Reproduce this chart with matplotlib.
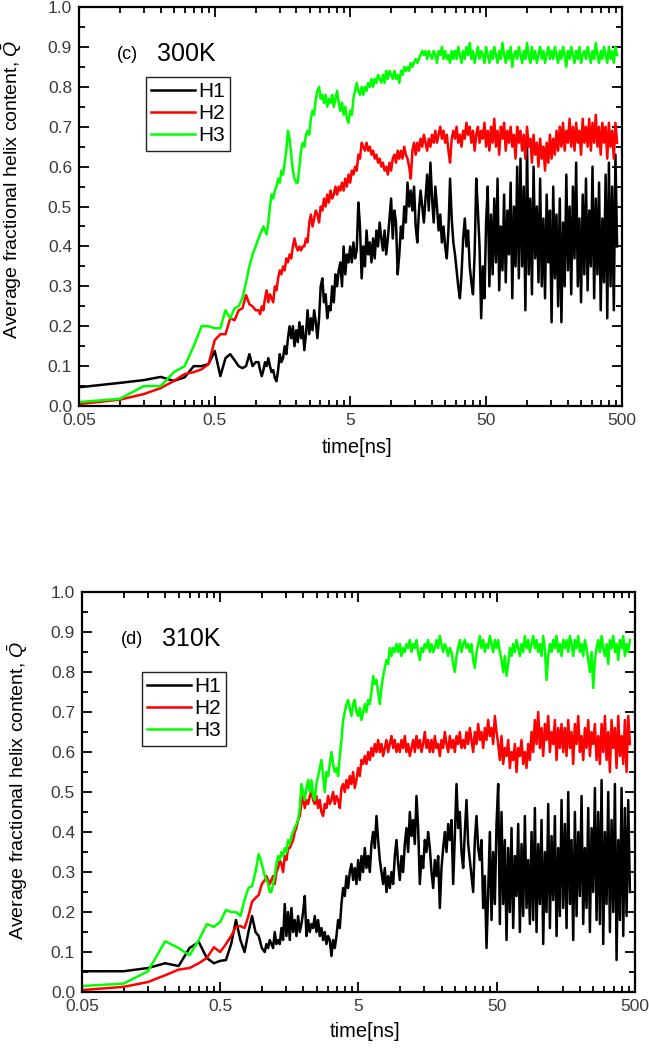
import numpy as np
import matplotlib
matplotlib.use("Agg")
import matplotlib.pyplot as plt
from matplotlib.ticker import FixedLocator, FixedFormatter, MultipleLocator, FormatStrFormatter

plt.rcParams['font.family'] = ['Liberation Sans', 'DejaVu Sans']
plt.rcParams['mathtext.fontset'] = 'custom'
plt.rcParams['mathtext.it'] = 'Liberation Sans:italic'
plt.rcParams['mathtext.rm'] = 'Liberation Sans'

# sampling times: evenly 0.05 ns at the start, then the dense trace (log-spaced samples)
t_early = [0.05, 0.10, 0.15, 0.20, 0.25, 0.30, 0.35, 0.40, 0.45, 0.50,
           0.55, 0.60, 0.65, 0.70, 0.75, 0.80, 0.85, 0.90, 0.95, 1.00]
t_late = np.geomspace(1.05, 460, 220)

# ---- (c) 300K ----
h1_300_early = [0.047, 0.058, 0.065, 0.073, 0.063, 0.072, 0.10, 0.10, 0.105, 0.138,
                0.075, 0.12, 0.13, 0.115, 0.10, 0.095, 0.10, 0.13, 0.10, 0.11]
h1_300_late = [
    0.11, 0.09, 0.075, 0.09, 0.11, 0.10, 0.12, 0.10, 0.085, 0.09, 0.07, 0.062, 0.09, 0.13, 0.11, 0.12, 0.15, 0.13, 0.17, 0.20,
    0.17, 0.20, 0.15, 0.19, 0.16, 0.21, 0.17, 0.20, 0.14, 0.18, 0.24, 0.18, 0.22, 0.19, 0.24, 0.21, 0.17, 0.22, 0.30, 0.32,
    0.26, 0.28, 0.22, 0.25, 0.24, 0.30, 0.26, 0.33, 0.30, 0.34, 0.36, 0.30, 0.40, 0.33, 0.38, 0.36, 0.40, 0.36, 0.41, 0.37,
    0.39, 0.51, 0.45, 0.32, 0.40, 0.35, 0.44, 0.38, 0.41, 0.36, 0.42, 0.37, 0.44, 0.40, 0.46, 0.42, 0.39, 0.44, 0.38, 0.42,
    0.47, 0.52, 0.42, 0.49, 0.46, 0.33, 0.38, 0.45, 0.42, 0.50, 0.46, 0.56, 0.50, 0.54, 0.49, 0.55, 0.45, 0.41, 0.49, 0.54,
    0.50, 0.46, 0.52, 0.58, 0.49, 0.61, 0.52, 0.46, 0.55, 0.50, 0.44, 0.48, 0.41, 0.45, 0.40, 0.37, 0.44, 0.57, 0.47, 0.41,
    0.38, 0.34, 0.30, 0.27, 0.33, 0.42, 0.47, 0.40, 0.44, 0.35, 0.31, 0.28, 0.38, 0.57, 0.49, 0.40, 0.22, 0.35, 0.27, 0.46,
    0.55, 0.30, 0.48, 0.33, 0.52, 0.36, 0.57, 0.29, 0.45, 0.34, 0.53, 0.31, 0.49, 0.38, 0.56, 0.27, 0.50, 0.35, 0.60, 0.32,
    0.62, 0.35, 0.55, 0.24, 0.66, 0.33, 0.52, 0.28, 0.60, 0.37, 0.50, 0.31, 0.57, 0.30, 0.47, 0.27, 0.53, 0.36, 0.49, 0.21,
    0.55, 0.32, 0.48, 0.25, 0.52, 0.21, 0.46, 0.30, 0.58, 0.34, 0.50, 0.28, 0.55, 0.37, 0.61, 0.30, 0.47, 0.26, 0.53, 0.33,
    0.57, 0.29, 0.49, 0.35, 0.60, 0.27, 0.52, 0.33, 0.56, 0.24, 0.47, 0.31, 0.58, 0.22, 0.61, 0.30, 0.55, 0.24, 0.63, 0.40]

h2_300_early = [0.005, 0.016, 0.03, 0.045, 0.063, 0.08, 0.085, 0.092, 0.105, 0.165,
                0.18, 0.18, 0.22, 0.215, 0.24, 0.245, 0.278, 0.255, 0.25, 0.24]
h2_300_late = [
    0.24, 0.23, 0.25, 0.24, 0.27, 0.29, 0.26, 0.28, 0.27, 0.26, 0.30, 0.29, 0.32, 0.34, 0.33, 0.35, 0.34, 0.37, 0.36, 0.38,
    0.37, 0.40, 0.42, 0.40, 0.39, 0.40, 0.39, 0.40, 0.40, 0.42, 0.41, 0.46, 0.48, 0.45, 0.47, 0.49, 0.48, 0.46, 0.50, 0.49,
    0.52, 0.50, 0.53, 0.51, 0.54, 0.52, 0.53, 0.55, 0.53, 0.55, 0.54, 0.56, 0.54, 0.57, 0.55, 0.58, 0.56, 0.59, 0.58, 0.60,
    0.59, 0.63, 0.62, 0.66, 0.65, 0.64, 0.66, 0.64, 0.65, 0.63, 0.64, 0.62, 0.63, 0.61, 0.62, 0.60, 0.61, 0.59, 0.60, 0.58,
    0.61, 0.59, 0.62, 0.63, 0.61, 0.64, 0.62, 0.64, 0.62, 0.65, 0.63, 0.62, 0.60, 0.57, 0.64, 0.66, 0.63, 0.66, 0.64, 0.67,
    0.65, 0.68, 0.66, 0.64, 0.67, 0.65, 0.68, 0.66, 0.69, 0.66, 0.68, 0.70, 0.67, 0.69, 0.66, 0.68, 0.64, 0.61, 0.67, 0.69,
    0.67, 0.70, 0.66, 0.68, 0.65, 0.69, 0.67, 0.71, 0.68, 0.70, 0.66, 0.69, 0.64, 0.68, 0.70, 0.66, 0.69, 0.67, 0.71, 0.65,
    0.69, 0.64, 0.70, 0.66, 0.72, 0.65, 0.69, 0.63, 0.70, 0.67, 0.71, 0.64, 0.69, 0.66, 0.70, 0.65, 0.68, 0.62, 0.70, 0.66,
    0.69, 0.64, 0.68, 0.62, 0.70, 0.65, 0.67, 0.61, 0.68, 0.63, 0.66, 0.60, 0.67, 0.62, 0.65, 0.59, 0.66, 0.61, 0.68, 0.62,
    0.67, 0.63, 0.69, 0.64, 0.70, 0.65, 0.71, 0.64, 0.69, 0.66, 0.72, 0.65, 0.70, 0.64, 0.71, 0.66, 0.69, 0.63, 0.72, 0.66,
    0.70, 0.65, 0.72, 0.64, 0.71, 0.66, 0.73, 0.65, 0.70, 0.63, 0.71, 0.66, 0.70, 0.62, 0.71, 0.65, 0.69, 0.62, 0.71, 0.66]

h3_300_early = [0.01, 0.018, 0.05, 0.05, 0.085, 0.10, 0.15, 0.20, 0.20, 0.195,
                0.195, 0.24, 0.22, 0.245, 0.25, 0.27, 0.31, 0.35, 0.38, 0.40]
h3_300_late = [
    0.42, 0.43, 0.44, 0.45, 0.44, 0.43, 0.46, 0.50, 0.53, 0.52, 0.54, 0.55, 0.57, 0.56, 0.59, 0.58, 0.61, 0.64, 0.69, 0.67,
    0.63, 0.59, 0.57, 0.56, 0.56, 0.60, 0.64, 0.66, 0.65, 0.68, 0.69, 0.68, 0.72, 0.74, 0.73, 0.77, 0.79, 0.80, 0.77, 0.78,
    0.76, 0.78, 0.75, 0.77, 0.76, 0.78, 0.75, 0.77, 0.79, 0.76, 0.74, 0.76, 0.73, 0.75, 0.72, 0.71, 0.74, 0.73, 0.77, 0.79,
    0.81, 0.79, 0.78, 0.80, 0.78, 0.80, 0.79, 0.81, 0.80, 0.82, 0.80, 0.82, 0.81, 0.83, 0.82, 0.81, 0.83, 0.81, 0.84, 0.82,
    0.84, 0.83, 0.82, 0.84, 0.82, 0.83, 0.81, 0.84, 0.83, 0.85, 0.84, 0.85, 0.84, 0.86, 0.85, 0.86, 0.87, 0.86, 0.87, 0.88,
    0.89, 0.88, 0.89, 0.87, 0.89, 0.88, 0.87, 0.89, 0.88, 0.86, 0.89, 0.88, 0.90, 0.87, 0.89, 0.87, 0.88, 0.86, 0.89, 0.87,
    0.89, 0.87, 0.90, 0.88, 0.86, 0.89, 0.87, 0.90, 0.88, 0.91, 0.87, 0.89, 0.86, 0.88, 0.90, 0.87, 0.89, 0.88, 0.86, 0.90,
    0.88, 0.86, 0.89, 0.87, 0.90, 0.88, 0.86, 0.89, 0.87, 0.91, 0.88, 0.86, 0.89, 0.87, 0.90, 0.85, 0.88, 0.89, 0.87, 0.90,
    0.88, 0.86, 0.89, 0.87, 0.91, 0.88, 0.86, 0.90, 0.87, 0.89, 0.86, 0.88, 0.90, 0.87, 0.89, 0.86, 0.88, 0.90, 0.87, 0.89,
    0.87, 0.90, 0.88, 0.86, 0.89, 0.87, 0.90, 0.88, 0.85, 0.89, 0.87, 0.90, 0.88, 0.86, 0.89, 0.87, 0.90, 0.86, 0.88, 0.89,
    0.87, 0.90, 0.88, 0.86, 0.89, 0.87, 0.91, 0.88, 0.86, 0.89, 0.87, 0.90, 0.88, 0.86, 0.90, 0.87, 0.89, 0.86, 0.90, 0.88]

# ---- (d) 310K ----
h1_310_early = [0.052, 0.052, 0.06, 0.072, 0.065, 0.11, 0.125, 0.085, 0.072, 0.078,
                0.08, 0.12, 0.18, 0.13, 0.10, 0.15, 0.19, 0.15, 0.14, 0.11]
h1_310_late = [
    0.10, 0.12, 0.11, 0.13, 0.12, 0.11, 0.15, 0.12, 0.13, 0.12, 0.16, 0.13, 0.22, 0.14, 0.20, 0.13, 0.21, 0.15, 0.18, 0.14,
    0.19, 0.15, 0.17, 0.20, 0.24, 0.14, 0.18, 0.15, 0.17, 0.16, 0.19, 0.15, 0.18, 0.14, 0.16, 0.13, 0.15, 0.12, 0.14, 0.13,
    0.09, 0.13, 0.11, 0.14, 0.18, 0.16, 0.22, 0.26, 0.24, 0.29, 0.26, 0.30, 0.32, 0.28, 0.31, 0.27, 0.33, 0.28, 0.34, 0.30,
    0.36, 0.31, 0.34, 0.30, 0.37, 0.40, 0.36, 0.44, 0.38, 0.33, 0.30, 0.27, 0.31, 0.25, 0.29, 0.26, 0.30, 0.27, 0.34, 0.38,
    0.32, 0.28, 0.34, 0.30, 0.37, 0.41, 0.35, 0.45, 0.39, 0.43, 0.37, 0.49, 0.41, 0.27, 0.34, 0.31, 0.38, 0.35, 0.40, 0.36,
    0.30, 0.26, 0.33, 0.29, 0.34, 0.21, 0.31, 0.36, 0.40, 0.35, 0.42, 0.38, 0.43, 0.27, 0.39, 0.52, 0.41, 0.45, 0.35, 0.31,
    0.40, 0.48, 0.37, 0.33, 0.29, 0.25, 0.38, 0.44, 0.36, 0.33, 0.38, 0.21, 0.29, 0.11, 0.25, 0.40, 0.18, 0.35, 0.22, 0.42,
    0.52, 0.17, 0.45, 0.22, 0.38, 0.13, 0.36, 0.20, 0.41, 0.16, 0.34, 0.24, 0.42, 0.15, 0.37, 0.19, 0.44, 0.21, 0.33, 0.17,
    0.40, 0.18, 0.46, 0.15, 0.37, 0.22, 0.43, 0.12, 0.35, 0.20, 0.47, 0.16, 0.39, 0.23, 0.44, 0.14, 0.36, 0.19, 0.48, 0.21,
    0.42, 0.16, 0.50, 0.22, 0.38, 0.13, 0.45, 0.19, 0.40, 0.24, 0.49, 0.17, 0.36, 0.21, 0.46, 0.15, 0.41, 0.25, 0.51, 0.18,
    0.45, 0.17, 0.53, 0.12, 0.40, 0.22, 0.50, 0.15, 0.43, 0.20, 0.52, 0.08, 0.38, 0.18, 0.51, 0.14, 0.46, 0.19, 0.48, 0.25]

h2_310_early = [0.005, 0.013, 0.025, 0.042, 0.056, 0.06, 0.072, 0.085, 0.112, 0.10,
                0.12, 0.14, 0.163, 0.165, 0.16, 0.19, 0.226, 0.235, 0.243, 0.27]
h2_310_late = [
    0.28, 0.29, 0.28, 0.27, 0.28, 0.29, 0.27, 0.30, 0.31, 0.33, 0.32, 0.30, 0.34, 0.33, 0.36, 0.36, 0.37, 0.38, 0.40, 0.41,
    0.43, 0.44, 0.47, 0.49, 0.46, 0.48, 0.47, 0.49, 0.50, 0.48, 0.47, 0.49, 0.46, 0.48, 0.45, 0.44, 0.47, 0.46, 0.49, 0.47,
    0.48, 0.50, 0.47, 0.49, 0.48, 0.46, 0.51, 0.52, 0.50, 0.53, 0.51, 0.54, 0.52, 0.55, 0.51, 0.53, 0.56, 0.54, 0.58, 0.57,
    0.59, 0.57, 0.60, 0.58, 0.61, 0.59, 0.62, 0.60, 0.63, 0.60, 0.62, 0.59, 0.61, 0.63, 0.60, 0.62, 0.64, 0.61, 0.63, 0.60,
    0.62, 0.60, 0.63, 0.61, 0.64, 0.60, 0.62, 0.59, 0.61, 0.63, 0.60, 0.64, 0.61, 0.63, 0.60, 0.62, 0.65, 0.61, 0.63, 0.60,
    0.63, 0.60, 0.64, 0.61, 0.62, 0.59, 0.63, 0.61, 0.65, 0.62, 0.60, 0.64, 0.61, 0.63, 0.60, 0.64, 0.62, 0.65, 0.61, 0.63,
    0.61, 0.65, 0.62, 0.66, 0.63, 0.60, 0.65, 0.62, 0.67, 0.63, 0.65, 0.61, 0.66, 0.63, 0.68, 0.64, 0.66, 0.62, 0.69, 0.65,
    0.62, 0.58, 0.64, 0.57, 0.61, 0.59, 0.63, 0.56, 0.60, 0.58, 0.62, 0.55, 0.61, 0.59, 0.63, 0.57, 0.60, 0.56, 0.62, 0.58,
    0.65, 0.60, 0.68, 0.62, 0.70, 0.61, 0.66, 0.59, 0.67, 0.63, 0.69, 0.60, 0.65, 0.62, 0.68, 0.58, 0.66, 0.61, 0.67, 0.60,
    0.66, 0.59, 0.68, 0.61, 0.65, 0.57, 0.67, 0.62, 0.69, 0.60, 0.64, 0.58, 0.66, 0.61, 0.68, 0.59, 0.65, 0.62, 0.67, 0.58,
    0.64, 0.57, 0.67, 0.60, 0.69, 0.58, 0.65, 0.55, 0.68, 0.61, 0.66, 0.56, 0.69, 0.59, 0.64, 0.57, 0.68, 0.55, 0.69, 0.62]

h3_310_early = [0.015, 0.021, 0.052, 0.127, 0.11, 0.092, 0.13, 0.17, 0.163, 0.175,
                0.205, 0.20, 0.20, 0.19, 0.23, 0.26, 0.265, 0.30, 0.345, 0.32]
h3_310_late = [
    0.29, 0.28, 0.27, 0.25, 0.25, 0.27, 0.29, 0.32, 0.34, 0.33, 0.35, 0.34, 0.36, 0.35, 0.38, 0.37, 0.39, 0.40, 0.41, 0.42,
    0.43, 0.46, 0.52, 0.50, 0.48, 0.51, 0.53, 0.50, 0.53, 0.49, 0.48, 0.52, 0.54, 0.56, 0.58, 0.54, 0.50, 0.55, 0.54, 0.57,
    0.60, 0.57, 0.55, 0.56, 0.54, 0.59, 0.63, 0.68, 0.70, 0.72, 0.73, 0.71, 0.69, 0.72, 0.73, 0.70, 0.69, 0.71, 0.68, 0.70,
    0.72, 0.70, 0.73, 0.72, 0.75, 0.79, 0.77, 0.78, 0.75, 0.72, 0.76, 0.79, 0.81, 0.83, 0.82, 0.86, 0.84, 0.86, 0.85, 0.87,
    0.85, 0.87, 0.84, 0.86, 0.85, 0.87, 0.86, 0.88, 0.85, 0.87, 0.86, 0.88, 0.85, 0.83, 0.86, 0.85, 0.87, 0.86, 0.88, 0.85,
    0.87, 0.85, 0.86, 0.88, 0.86, 0.89, 0.87, 0.85, 0.87, 0.86, 0.84, 0.86, 0.85, 0.82, 0.80, 0.84, 0.86, 0.88, 0.85, 0.87,
    0.88, 0.86, 0.87, 0.85, 0.87, 0.83, 0.81, 0.85, 0.87, 0.89, 0.86, 0.88, 0.85, 0.87, 0.86, 0.89, 0.87, 0.85, 0.88, 0.86,
    0.88, 0.85, 0.83, 0.80, 0.84, 0.79, 0.82, 0.86, 0.84, 0.87, 0.85, 0.88, 0.86, 0.84, 0.87, 0.85, 0.89, 0.86, 0.88, 0.85,
    0.87, 0.89, 0.86, 0.88, 0.85, 0.87, 0.84, 0.89, 0.86, 0.78, 0.84, 0.87, 0.85, 0.88, 0.86, 0.89, 0.85, 0.87, 0.84, 0.88,
    0.86, 0.88, 0.85, 0.89, 0.87, 0.84, 0.88, 0.86, 0.89, 0.85, 0.87, 0.84, 0.88, 0.86, 0.83, 0.80, 0.85, 0.76, 0.83, 0.86,
    0.88, 0.85, 0.89, 0.86, 0.84, 0.87, 0.82, 0.88, 0.86, 0.89, 0.85, 0.87, 0.83, 0.88, 0.86, 0.89, 0.84, 0.87, 0.85, 0.88]

labels = ['H1', 'H2', 'H3']
colors = ['#000000', '#ff0000', '#00ff00']
tick_grey = '#3a3a3a'


def draw_panel(ax, series, tag, temp, legend_anchor, ylab_xy, xlab_xy):
    t_all = np.concatenate([t_early, t_late])
    for (early, late), lab, col in zip(series, labels, colors):
        ax.plot(t_all, np.concatenate([early, late]), color=col, lw=1.8, label=lab)

    ax.set_xscale('log')
    ax.set_xlim(0.05, 500)
    ax.set_ylim(0, 1.0)

    majors = [0.05, 0.5, 5, 50, 500]
    minors = [0.05 * k * 10 ** n for n in range(4) for k in range(2, 10)]
    ax.xaxis.set_major_locator(FixedLocator(majors))
    ax.xaxis.set_major_formatter(FixedFormatter(['0.05', '0.5', '5', '50', '500']))
    ax.xaxis.set_minor_locator(FixedLocator(minors))
    ax.xaxis.set_minor_formatter(FixedFormatter([''] * len(minors)))
    ax.yaxis.set_major_locator(MultipleLocator(0.1))
    ax.yaxis.set_minor_locator(MultipleLocator(0.05))
    ax.yaxis.set_major_formatter(FormatStrFormatter('%.1f'))

    ax.tick_params(which='both', direction='in', top=True, right=True, width=1.3,
                   labelsize=12.5, labelcolor=tick_grey)
    ax.tick_params(which='major', length=7, pad=5)
    ax.tick_params(which='minor', length=4)
    for s in ax.spines.values():
        s.set_linewidth(1.6)

    ax.set_ylabel(r'Average fractional helix content, $\bar{Q}$', fontsize=14)
    ax.yaxis.set_label_coords(*ylab_xy)
    ax.set_xlabel('time[ns]', fontsize=14.5)
    ax.xaxis.set_label_coords(*xlab_xy)

    ax.text(0.07, 0.882, tag, transform=ax.transAxes, fontsize=13, va='center', ha='left')
    ax.text(0.144, 0.882, temp, transform=ax.transAxes, fontsize=18, va='center', ha='left')

    leg = ax.legend(loc='upper left', bbox_to_anchor=legend_anchor, borderaxespad=0,
                    fontsize=15, handlelength=2.1, handletextpad=0.15, labelspacing=0.15,
                    borderpad=0.25, fancybox=False, framealpha=1)
    leg.get_frame().set_edgecolor('#222222')
    leg.get_frame().set_linewidth(1.0)


fig = plt.figure(figsize=(6.49, 10.5), dpi=100)
ax_c = fig.add_axes([0.1217, 0.6133, 0.8367, 0.38])
ax_d = fig.add_axes([0.1263, 0.0552, 0.852, 0.381])

draw_panel(ax_c, [(h1_300_early, h1_300_late), (h2_300_early, h2_300_late), (h3_300_early, h3_300_late)],
           '(c)', '300K', (0.1234, 0.8246), (-0.102, 0.544), (0.512, -0.08))
draw_panel(ax_d, [(h1_310_early, h1_310_late), (h2_310_early, h2_310_late), (h3_310_early, h3_310_late)],
           '(d)', '310K', (0.1085, 0.80), (-0.094, 0.505), (0.512, -0.075))

fig.savefig('out.png', dpi=100)
